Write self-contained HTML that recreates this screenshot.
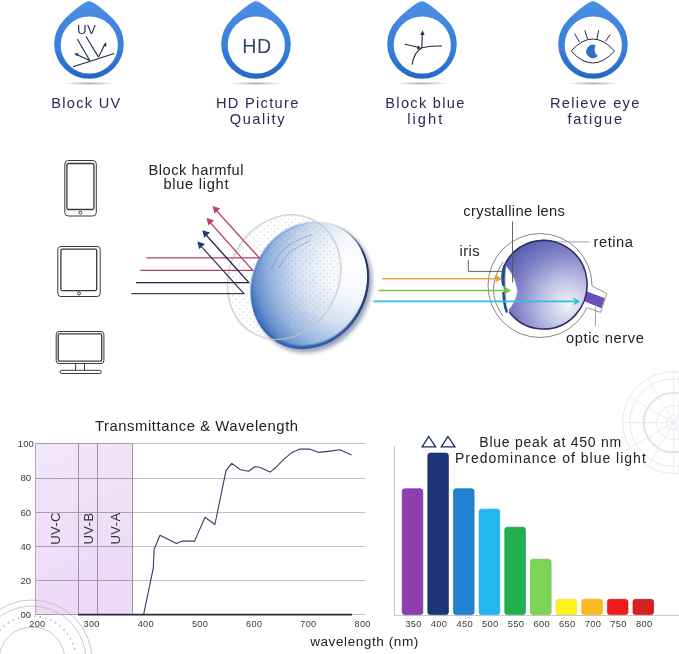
<!DOCTYPE html>
<html><head><meta charset="utf-8">
<style>
html,body{margin:0;padding:0;background:#fff;width:679px;height:654px;overflow:hidden}
svg{display:block;will-change:transform}
text{font-family:"Liberation Sans",sans-serif}
.lbl{font-size:14.6px;fill:#262c54;letter-spacing:1.3px;text-anchor:middle}
</style></head>
<body>
<svg width="679" height="654" viewBox="0 0 679 654">
<defs>
  <linearGradient id="ring" x1="0" y1="0" x2="0" y2="1">
    <stop offset="0" stop-color="#4a8fe3"/>
    <stop offset="0.6" stop-color="#3a7fd8"/>
    <stop offset="1" stop-color="#2367c4"/>
  </linearGradient>
  <radialGradient id="shd" cx="0.5" cy="0.5" r="0.5">
    <stop offset="0" stop-color="#000" stop-opacity="0.32"/>
    <stop offset="1" stop-color="#000" stop-opacity="0"/>
  </radialGradient>
  <g id="drop">
    <ellipse cx="0" cy="83.4" rx="27" ry="1.7" fill="url(#shd)"/>
    <path d="M0 1.2 C5 1.3 16.6 11.4 24.6 19.4 A34.8 34.8 0 1 1 -24.6 19.4 C-16.6 11.4 -5 1.3 0 1.2 Z" fill="url(#ring)"/>
    <circle cx="0.3" cy="45" r="28.6" fill="#fff"/>
  </g>

  <pattern id="dots" width="7" height="6.4" patternUnits="userSpaceOnUse">
    <circle cx="1.75" cy="1.6" r="0.6" fill="#9aa0b8" fill-opacity="0.55"/>
    <circle cx="5.25" cy="4.8" r="0.6" fill="#9aa0b8" fill-opacity="0.55"/>
  </pattern>
  <radialGradient id="lensg" gradientUnits="userSpaceOnUse" cx="352" cy="270" r="106" fx="356" fy="266">
    <stop offset="0" stop-color="#ffffff"/>
    <stop offset="0.3" stop-color="#f3f6fb"/>
    <stop offset="0.55" stop-color="#d2def1"/>
    <stop offset="0.78" stop-color="#98b6e0"/>
    <stop offset="0.92" stop-color="#6790cd"/>
    <stop offset="1" stop-color="#3c6cbd"/>
  </radialGradient>
  <radialGradient id="eyeg" gradientUnits="userSpaceOnUse" cx="566" cy="302" r="78" fx="568" fy="305">
    <stop offset="0" stop-color="#f2f2f9"/>
    <stop offset="0.3" stop-color="#c4c5e6"/>
    <stop offset="0.65" stop-color="#7f82c8"/>
    <stop offset="1" stop-color="#4c50a8"/>
  </radialGradient>
  <filter id="blur1" x="-20%" y="-20%" width="140%" height="140%"><feGaussianBlur stdDeviation="2"/></filter>
  <linearGradient id="rimg" gradientUnits="userSpaceOnUse" x1="300" y1="350" x2="330" y2="218"><stop offset="0" stop-color="#2f5fb0"/><stop offset="0.45" stop-color="#1f3f80"/><stop offset="0.8" stop-color="#1c2f66"/><stop offset="0.9" stop-color="#8090b0"/><stop offset="1" stop-color="#e8eef8"/></linearGradient>
  <linearGradient id="uvg" x1="0" y1="0" x2="0.25" y2="1">
    <stop offset="0" stop-color="#f1e6fa"/>
    <stop offset="1" stop-color="#eddaf5"/>
  </linearGradient>
  <pattern id="dots2" width="7" height="6.4" patternUnits="userSpaceOnUse">
    <circle cx="1.75" cy="1.6" r="0.65" fill="#7d88a8" fill-opacity="0.45"/>
    <circle cx="5.25" cy="4.8" r="0.65" fill="#7d88a8" fill-opacity="0.45"/>
  </pattern>
  <linearGradient id="edgeg" gradientUnits="userSpaceOnUse" x1="258" y1="262" x2="325" y2="228">
    <stop offset="0" stop-color="#3f6fbd" stop-opacity="0.55"/>
    <stop offset="0.6" stop-color="#5a86c6" stop-opacity="0.4"/>
    <stop offset="1" stop-color="#6a90c8" stop-opacity="0"/>
  </linearGradient>
</defs>

<!-- ===== top icons ===== -->
<use href="#drop" x="89" y="0"/>
<use href="#drop" x="256" y="0"/>
<use href="#drop" x="422" y="0"/>
<use href="#drop" x="593" y="0"/>

<!-- icon1 UV -->
<g stroke="#1f2a4a" stroke-width="1.1" fill="none">
  <line x1="73" y1="66.7" x2="114.3" y2="53.6"/>
  <line x1="77.4" y1="39.2" x2="89.8" y2="60.5"/>
  <line x1="86" y1="36.5" x2="98.5" y2="57.1"/>
  <line x1="89.8" y1="60.5" x2="76" y2="54.2"/>
  <line x1="98.5" y1="57.1" x2="105" y2="44"/>
</g>
<path d="M74.1 53.4 L78.8 53.2 L77.4 56.2 Z" fill="#1f2a4a"/>
<path d="M106.3 42 L106.2 46.8 L103.4 45.3 Z" fill="#1f2a4a"/>
<text x="86.6" y="33.6" font-size="13.4" fill="#2a3862" text-anchor="middle" letter-spacing="0.4">UV</text>

<!-- icon2 HD -->
<text x="257" y="53.4" font-size="19.6" fill="#34436e" text-anchor="middle" letter-spacing="0.6">HD</text>

<!-- icon3 block blue -->
<g stroke="#1f2a4a" stroke-width="1.1" fill="none">
  <line x1="421.8" y1="48" x2="422.4" y2="33"/>
  <path d="M404.6 44.3 Q412 45.5 418.6 47.6"/>
  <path d="M421 48 Q430 45.6 441.7 46.1"/>
  <path d="M412.1 64.6 Q414 52 421.8 48"/>
</g>
<path d="M422.5 30.3 L424.6 35 L420.4 35 Z" fill="#1f2a4a"/>
<path d="M421 48.3 L417 49.5 L418 45.6 Z" fill="#1f2a4a"/>

<!-- icon4 eye -->
<g stroke="#1f2a4a" stroke-width="1" fill="none">
  <path d="M571.1 51 Q592.8 27 614.5 51 Q592.8 75 571.1 51 Z"/>
  <line x1="574.6" y1="33.7" x2="579.4" y2="42"/>
  <line x1="584.9" y1="30.3" x2="587.6" y2="39.2"/>
  <line x1="598.6" y1="30.3" x2="597" y2="39.2"/>
  <line x1="610.3" y1="34.4" x2="605.5" y2="41.3"/>
</g>
<path d="M595.1 45.56 A6.3 6.3 0 1 0 597.3 56.1 A9.2 9.2 0 0 1 595.1 45.56 Z" fill="#2b72cc" stroke="#1b4a90" stroke-width="0.6"/>

<!-- labels -->
<text class="lbl" x="86.4" y="108">Block UV</text>
<text class="lbl" x="257.8" y="107.8">HD Picture</text>
<text class="lbl" x="257.9" y="124.4" style="letter-spacing:1.55px">Quality</text>
<text class="lbl" x="425.5" y="107.8">Block blue</text>
<text class="lbl" x="425.8" y="124.4" style="letter-spacing:2.1px">light</text>
<text class="lbl" x="595.3" y="107.8">Relieve eye</text>
<text class="lbl" x="595.6" y="124.4" style="letter-spacing:1.8px">fatigue</text>


<!-- ===== middle: devices ===== -->
<g fill="none" stroke="#3a3a3a">
  <rect x="64.8" y="160.5" width="31.5" height="55.5" rx="3.5" stroke-width="1"/>
  <rect x="66.9" y="163.5" width="27" height="46" rx="1.5" stroke-width="1.3"/>
  <circle cx="80.4" cy="212.6" r="1.5" stroke-width="1"/>
  <rect x="57.8" y="246.5" width="42.4" height="50" rx="3" stroke-width="1"/>
  <rect x="60.9" y="249.2" width="35.8" height="41.4" rx="1.5" stroke-width="1.3"/>
  <circle cx="79" cy="293.4" r="1.5" stroke-width="1"/>
  <rect x="56.2" y="331.5" width="47.7" height="32" rx="3" stroke-width="1"/>
  <rect x="58.2" y="333.8" width="43.5" height="27.3" rx="1" stroke-width="1.3"/>
  <path d="M75.6 364 V370.3 M84.5 364 V370.3" stroke-width="1"/>
  <rect x="60" y="370.3" width="41.3" height="3.2" rx="1.6" stroke-width="1"/>
</g>
<text x="196.3" y="174.8" font-size="14.7" fill="#222" text-anchor="middle" letter-spacing="0.5">Block harmful</text>
<text x="196.3" y="189" font-size="14.7" fill="#222" text-anchor="middle" letter-spacing="0.7">blue light</text>

<!-- dotted filter ring -->

<!-- lens -->
<path d="M362.02 317.30 A56.6 65.7 30 1 0 263.98 260.70 A56.6 65.7 30 1 0 362.02 317.30 Z" fill="#44507a" opacity="0.55" filter="url(#blur1)"/>
<path d="M359.22 313.90 A56.6 65.7 30 1 0 261.18 257.30 A56.6 65.7 30 1 0 359.22 313.90 Z" fill="url(#rimg)"/>
<path d="M357.35 311.90 A55.6 63.6 30 1 0 261.05 256.30 A55.6 63.6 30 1 0 357.35 311.90 Z" fill="url(#lensg)" stroke="url(#edgeg)" stroke-width="2.4"/>
<path d="M332.44 302.27 A54.5 64.1 27.5 1 0 235.76 251.93 A54.5 64.1 27.5 1 0 332.44 302.27 Z" fill="url(#dots2)"/>
<path d="M270.9 270.7 Q279 244 312 234.9" fill="none" stroke="#7c8fb6" stroke-opacity="0.75" stroke-width="0.9"/>
<path d="M278.9 268 Q287 249 310.7 240.9" fill="none" stroke="#7c8fb6" stroke-opacity="0.7" stroke-width="0.9"/>
<path d="M332.44 302.27 A54.5 64.1 27.5 1 0 235.76 251.93 A54.5 64.1 27.5 1 0 332.44 302.27 Z" fill="none" stroke="#c6c6c6" stroke-opacity="0.75" stroke-width="1.5"/>

<!-- reflected arrows -->
<g fill="none" stroke-width="1.3">
  <path d="M146.4 257.8 H259.2 L215 209" stroke="#b3436e"/>
  <path d="M140.2 270.3 H252.8 L208.8 221" stroke="#b3436e"/>
  <path d="M136 282.6 H248.8 L204.6 233.3" stroke="#1d2448"/>
  <path d="M131.3 293.6 H243.9 L199.6 244.6" stroke="#3c4052"/>
</g>
<path d="M212.6 206.1 L220.3 208.4 L214.5 213.5 Z" fill="#c13d6e"/>
<path d="M206.5 218 L214.2 220.3 L208.4 225.4 Z" fill="#c13d6e"/>
<path d="M202.3 230.3 L210 232.6 L204.2 237.7 Z" fill="#1e3a78"/>
<path d="M197.3 241.6 L205 243.9 L199.2 249 Z" fill="#1e3a78"/>

<!-- light rays into eye -->

<!-- eye -->
<circle cx="540" cy="285.5" r="52" fill="#fff" stroke="#6a6a6a" stroke-width="0.8"/>
<path d="M503 262 Q484 290 503 316" fill="none" stroke="#6a6a6a" stroke-width="0.8"/>
<path d="M580 280 L592.2 286 L606.7 293.7 L600.6 312.4 L587.6 307.8 L578 304 Z" fill="#fff"/>
<path d="M592.2 286 L606.7 293.7 L600.6 312.4 L587.6 307.8" fill="none" stroke="#7a7a7a" stroke-width="0.8"/>
<path d="M585.7 291 L604.8 298.3 L601.3 308.2 L583.8 301 Z" fill="#6b4eb6"/>
<path d="M504.38 265.5 A43.5 44.4 0 1 1 509.29 312 Q500.5 288 504.38 265.5 Z" fill="url(#eyeg)"/>
<path d="M504.38 265.5 A43.5 44.4 0 1 1 509.29 312" fill="none" stroke="#2b2c68" stroke-width="1.5"/>
<path d="M504.38 265.5 A43.5 44.4 0 0 1 545 240.3" fill="none" stroke="#2b2c68" stroke-width="0.8"/>
<!-- lens + iris -->
<path d="M506 266 Q515 276 517.3 290.6 Q516 303 507.6 310.5 Q503.8 288 506 266 Z" fill="#fff" stroke="#c9cadb" stroke-width="0.5"/>
<path d="M503.3 265 Q499.6 276 502.2 286 L504.6 286 Q503.4 276 506 265 Z" fill="#1d4e8e"/>
<path d="M502.2 292 Q502.4 303 505.6 312.5 L508 312.5 Q505 303 504.6 292 Z" fill="#1d4e8e"/>
<g stroke-width="1.6">
  <line x1="382.2" y1="278.7" x2="497" y2="278.7" stroke="#eda03a"/>
  <line x1="378.6" y1="290.5" x2="506" y2="290.5" stroke="#7cc444"/>
  <line x1="373.4" y1="301.4" x2="574" y2="301.4" stroke="#2cc0e0"/>
</g>
<path d="M502.2 278.7 L495 274.8 L496.5 278.7 L495 282.6 Z" fill="#eda03a"/>
<path d="M511.4 290.5 L504.2 286.6 L505.7 290.5 L504.2 294.4 Z" fill="#7cc444"/>
<path d="M580.4 301.4 L573.2 297.5 L574.7 301.4 L573.2 305.3 Z" fill="#2cc0e0"/>

<!-- pointers -->
<g stroke="#555" stroke-width="0.9" fill="none">
  <path d="M512.5 221.5 V282.5"/>
  <path d="M468.3 260 V271.4 H502.7"/>
  <path d="M557.3 241.9 H589.5" stroke="#999"/>
  <path d="M595.5 307 V326" stroke="#999"/>
</g>
<text x="463.3" y="216.2" font-size="14.7" fill="#222" letter-spacing="0.35">crystalline lens</text>
<text x="459.4" y="256" font-size="14.7" fill="#222" letter-spacing="0.5">iris</text>
<text x="593.6" y="246.8" font-size="14.7" fill="#222" letter-spacing="0.5">retina</text>
<text x="566" y="343.3" font-size="14.7" fill="#222" letter-spacing="0.6">optic nerve</text>

<!-- radar decoration -->
<g fill="none" stroke="#e0e6ec" stroke-width="1">
  <circle cx="673.6" cy="422.6" r="51" stroke-width="0.9"/>
  <circle cx="673.6" cy="422.6" r="43.7" stroke-width="0.9"/>
  <circle cx="673.6" cy="422.6" r="29.8" stroke-width="2.2"/>
  <circle cx="673.6" cy="422.6" r="16.9" stroke-width="0.9"/>
  <circle cx="673.6" cy="422.6" r="7" stroke-width="0.9"/>
  <line x1="673.6" y1="422.6" x2="723.6" y2="422.6" stroke-width="0.7"/>
  <line x1="673.6" y1="422.6" x2="716.9" y2="447.6" stroke-width="0.7"/>
  <line x1="673.6" y1="422.6" x2="698.6" y2="465.9" stroke-width="0.7"/>
  <line x1="673.6" y1="422.6" x2="673.6" y2="472.6" stroke-width="0.7"/>
  <line x1="673.6" y1="422.6" x2="648.6" y2="465.9" stroke-width="0.7"/>
  <line x1="673.6" y1="422.6" x2="630.3" y2="447.6" stroke-width="0.7"/>
  <line x1="673.6" y1="422.6" x2="623.6" y2="422.6" stroke-width="0.7"/>
  <line x1="673.6" y1="422.6" x2="630.3" y2="397.6" stroke-width="0.7"/>
  <line x1="673.6" y1="422.6" x2="648.6" y2="379.3" stroke-width="0.7"/>
  <line x1="673.6" y1="422.6" x2="673.6" y2="372.6" stroke-width="0.7"/>
  <line x1="673.6" y1="422.6" x2="698.6" y2="379.3" stroke-width="0.7"/>
  <line x1="673.6" y1="422.6" x2="716.9" y2="397.6" stroke-width="0.7"/>
</g>

<!-- ===== left chart ===== -->
<text x="196.8" y="430.8" font-size="14.8" fill="#222" text-anchor="middle" letter-spacing="0.57">Transmittance &amp; Wavelength</text>
<rect x="35.5" y="443.5" width="97" height="171" fill="url(#uvg)"/>
<g fill="none" stroke="#c4c0c8" stroke-width="0.9">
  <circle cx="32" cy="660" r="60"/>
  <circle cx="32" cy="660" r="54"/>
  <circle cx="32" cy="660" r="33"/>
  <circle cx="32" cy="660" r="44" stroke-dasharray="1.5 4" stroke-width="2"/>
</g>
<line x1="35.5" y1="443.5" x2="132.5" y2="443.5" stroke="#ab9cb6" stroke-width="1"/>
<line x1="132.5" y1="443.5" x2="365" y2="443.5" stroke="#c2c2c2" stroke-width="1"/>
<line x1="35.5" y1="478.5" x2="132.5" y2="478.5" stroke="#ab9cb6" stroke-width="1"/>
<line x1="132.5" y1="478.5" x2="365" y2="478.5" stroke="#c2c2c2" stroke-width="1"/>
<line x1="35.5" y1="512.5" x2="132.5" y2="512.5" stroke="#ab9cb6" stroke-width="1"/>
<line x1="132.5" y1="512.5" x2="365" y2="512.5" stroke="#c2c2c2" stroke-width="1"/>
<line x1="35.5" y1="546.5" x2="132.5" y2="546.5" stroke="#ab9cb6" stroke-width="1"/>
<line x1="132.5" y1="546.5" x2="365" y2="546.5" stroke="#c2c2c2" stroke-width="1"/>
<line x1="35.5" y1="580.5" x2="132.5" y2="580.5" stroke="#ab9cb6" stroke-width="1"/>
<line x1="132.5" y1="580.5" x2="365" y2="580.5" stroke="#c2c2c2" stroke-width="1"/>
<line x1="35.5" y1="614.5" x2="132.5" y2="614.5" stroke="#ab9cb6" stroke-width="1"/>
<line x1="132.5" y1="614.5" x2="365" y2="614.5" stroke="#c2c2c2" stroke-width="1"/>
<line x1="35.5" y1="443.5" x2="35.5" y2="614.5" stroke="#b0a6b8" stroke-width="1"/>
<line x1="78.5" y1="443.5" x2="78.5" y2="614.4" stroke="#a090aa" stroke-width="1"/>
<line x1="97.5" y1="443.5" x2="97.5" y2="614.4" stroke="#a090aa" stroke-width="1"/>
<line x1="132.5" y1="443.5" x2="132.5" y2="614.4" stroke="#a090aa" stroke-width="1"/>
<line x1="78" y1="614.6" x2="352" y2="614.6" stroke="#2a2a38" stroke-width="1.6"/>
<text transform="translate(60.1 528.5) rotate(-90)" font-size="13" fill="#333" text-anchor="middle" letter-spacing="0.4">UV-C</text>
<text transform="translate(93.19999999999999 528.5) rotate(-90)" font-size="13" fill="#333" text-anchor="middle" letter-spacing="0.4">UV-B</text>
<text transform="translate(119.6 528.5) rotate(-90)" font-size="13" fill="#333" text-anchor="middle" letter-spacing="0.4">UV-A</text>
<text x="25.8" y="447.3" font-size="9.5" fill="#3a3a3a" text-anchor="middle">100</text>
<text x="25.8" y="481.4" font-size="9.5" fill="#3a3a3a" text-anchor="middle">80</text>
<text x="25.8" y="515.5" font-size="9.5" fill="#3a3a3a" text-anchor="middle">60</text>
<text x="25.8" y="549.5" font-size="9.5" fill="#3a3a3a" text-anchor="middle">40</text>
<text x="25.8" y="583.6" font-size="9.5" fill="#3a3a3a" text-anchor="middle">20</text>
<text x="25.8" y="617.7" font-size="9.5" fill="#3a3a3a" text-anchor="middle">00</text>
<text x="37.4" y="626.6" font-size="9.2" fill="#3a3a3a" text-anchor="middle" letter-spacing="0.3">200</text>
<text x="91.6" y="626.6" font-size="9.2" fill="#3a3a3a" text-anchor="middle" letter-spacing="0.3">300</text>
<text x="145.8" y="626.6" font-size="9.2" fill="#3a3a3a" text-anchor="middle" letter-spacing="0.3">400</text>
<text x="200.0" y="626.6" font-size="9.2" fill="#3a3a3a" text-anchor="middle" letter-spacing="0.3">500</text>
<text x="254.2" y="626.6" font-size="9.2" fill="#3a3a3a" text-anchor="middle" letter-spacing="0.3">600</text>
<text x="308.4" y="626.6" font-size="9.2" fill="#3a3a3a" text-anchor="middle" letter-spacing="0.3">700</text>
<text x="362.6" y="626.6" font-size="9.2" fill="#3a3a3a" text-anchor="middle" letter-spacing="0.3">800</text>
<text x="364.5" y="646.3" font-size="13.6" fill="#222" text-anchor="middle" letter-spacing="0.55">wavelength (nm)</text>
<path d="M143.7 614.1 L153.3 568.2 L154.1 549.3 L160 535.3 L176.5 543.4 L182.4 541.1 L194.6 541.1 L205 517.3 L214.9 524.5 L226 470.7 L231.8 463.4 L240.5 469.8 L248.7 471.3 L254.8 466.8 L259.6 467.3 L270.1 472.1 L274.9 468.3 L284.5 458.7 L292.1 452.4 L299.8 449.1 L309.4 449.1 L318.9 452.4 L330.4 451.1 L340 449.7 L351.5 454.9" fill="none" stroke="#3d3768" stroke-width="1.1" stroke-linejoin="round"/>
<!-- ===== bar chart ===== -->
<line x1="394.5" y1="446" x2="394.5" y2="615.5" stroke="#c8c8c8" stroke-width="1"/>
<line x1="394.5" y1="615.5" x2="679" y2="615.5" stroke="#c8c8c8" stroke-width="1"/>
<rect x="402.2" y="488.8" width="20.6" height="125.8" rx="2.5" fill="#8e3fae" stroke="#7a3498" stroke-width="0.7"/>
<text x="413.4" y="626.8" font-size="9.4" fill="#3a3a3a" text-anchor="middle" letter-spacing="0.3">350</text>
<rect x="427.8" y="453.1" width="20.6" height="161.5" rx="2.5" fill="#1e3577" stroke="#172a62" stroke-width="0.7"/>
<text x="439.0" y="626.8" font-size="9.4" fill="#3a3a3a" text-anchor="middle" letter-spacing="0.3">400</text>
<rect x="453.5" y="488.8" width="20.6" height="125.8" rx="2.5" fill="#2383d0" stroke="#1c72b8" stroke-width="0.7"/>
<text x="464.7" y="626.8" font-size="9.4" fill="#3a3a3a" text-anchor="middle" letter-spacing="0.3">450</text>
<rect x="479.1" y="509.2" width="20.6" height="105.4" rx="2.5" fill="#22b8ef" stroke="#1ea6da" stroke-width="0.7"/>
<text x="490.3" y="626.8" font-size="9.4" fill="#3a3a3a" text-anchor="middle" letter-spacing="0.3">500</text>
<rect x="504.8" y="527.2" width="20.6" height="87.4" rx="2.5" fill="#22b04f" stroke="#1d9a44" stroke-width="0.7"/>
<text x="516.0" y="626.8" font-size="9.4" fill="#3a3a3a" text-anchor="middle" letter-spacing="0.3">550</text>
<rect x="530.5" y="559.3" width="20.6" height="55.3" rx="2.5" fill="#7ed457" stroke="#70c24b" stroke-width="0.7"/>
<text x="541.7" y="626.8" font-size="9.4" fill="#3a3a3a" text-anchor="middle" letter-spacing="0.3">600</text>
<rect x="556.1" y="599.3" width="20.6" height="15.3" rx="2.5" fill="#fef21e" stroke="#f0e016" stroke-width="0.7"/>
<text x="567.3" y="626.8" font-size="9.4" fill="#3a3a3a" text-anchor="middle" letter-spacing="0.3">650</text>
<rect x="581.8" y="599.3" width="20.6" height="15.3" rx="2.5" fill="#fbbb20" stroke="#eaa818" stroke-width="0.7"/>
<text x="593.0" y="626.8" font-size="9.4" fill="#3a3a3a" text-anchor="middle" letter-spacing="0.3">700</text>
<rect x="607.4" y="599.3" width="20.6" height="15.3" rx="2.5" fill="#f01c1c" stroke="#d81818" stroke-width="0.7"/>
<text x="618.6" y="626.8" font-size="9.4" fill="#3a3a3a" text-anchor="middle" letter-spacing="0.3">750</text>
<rect x="633.0" y="599.3" width="20.6" height="15.3" rx="2.5" fill="#d42020" stroke="#bd1a1a" stroke-width="0.7"/>
<text x="644.2" y="626.8" font-size="9.4" fill="#3a3a3a" text-anchor="middle" letter-spacing="0.3">800</text>
<path d="M428.8 436.5 L435.6 446.8 L422.1 446.8 Z M448 436.5 L454.9 446.8 L441.3 446.8 Z" fill="none" stroke="#1e2a60" stroke-width="1.3" stroke-linejoin="miter"/>
<text x="479.3" y="447.4" font-size="14" fill="#222" letter-spacing="0.75">Blue peak at 450 nm</text>
<text x="455" y="463.3" font-size="14" fill="#222" letter-spacing="1.0">Predominance of blue light</text>
</svg>
</body></html>
